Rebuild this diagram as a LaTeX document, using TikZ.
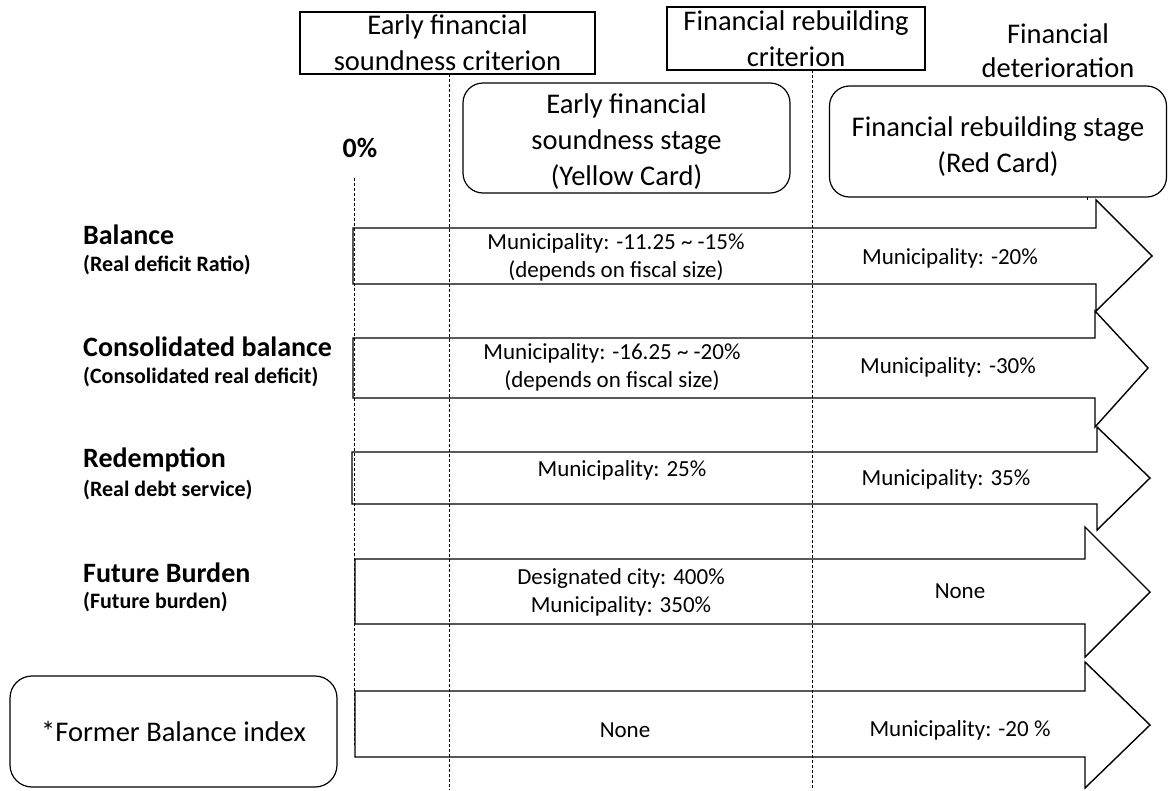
\documentclass[tikz,border=0pt]{standalone}
\usepackage{fontspec}
\setmainfont{Carlito}
\begin{document}
\begin{tikzpicture}[x=1pt,y=-1pt,
  crit/.style={draw, line width=1.2pt, inner sep=0pt, font=\fontsize{28.5}{36}\selectfont, align=center},
  stagebox/.style={draw, rounded corners=20pt, line width=1.2pt, inner sep=0pt, font=\fontsize{28.5}{36}\selectfont, align=center},
  arrowshape/.style={draw, fill=white, line width=1.4pt, line join=miter},
  guide/.style={dash pattern=on 3pt off 2pt, line width=0.8pt},
  big/.style={font=\fontsize{28.5}{34}\selectfont, align=center},
  lbl/.style={font=\fontsize{28}{34}\selectfont\bfseries, anchor=west, inner sep=0pt},
  sublbl/.style={font=\fontsize{22}{26}\selectfont\bfseries, anchor=west, inner sep=0pt},
  val/.style={font=\fontsize{23}{28}\selectfont, align=center, inner sep=0pt}
]
\useasboundingbox (0,0) rectangle (1169,790);

% arrows
\draw[arrowshape] (353,228) -- (1096,228) -- (1096,200) -- (1152,256) -- (1096,311) -- (1096,284) -- (353,284) -- cycle;
\draw[arrowshape] (353,338) -- (1095,338) -- (1095,311) -- (1148,368) -- (1095,427) -- (1095,398) -- (353,398) -- cycle;
\draw[arrowshape] (352,452) -- (1097,452) -- (1097,427) -- (1150,478) -- (1097,530) -- (1097,504) -- (352,504) -- cycle;
\draw[arrowshape] (355,559) -- (1085,559) -- (1085,527) -- (1150,592) -- (1085,657) -- (1085,624) -- (355,624) -- cycle;
\draw[arrowshape] (355,691) -- (1085,691) -- (1085,662) -- (1150,725) -- (1085,788) -- (1085,757) -- (355,757) -- cycle;

% top boxes
\node[crit, minimum width=295pt, minimum height=62pt] (c1) at (447.5,43) {Early financial\\soundness criterion};
\node[crit, minimum width=258pt, minimum height=63pt] (c2) at (796,38.5) {Financial rebuilding\\criterion};
\node[big] (det) at (1058,51) {Financial\\deterioration};
\node[stagebox, minimum width=327pt, minimum height=110pt] (yc) at (626.5,138) {};
\node[font=\fontsize{28.5}{36}\selectfont, align=center] (yct) at (626.5,142) {Early financial\\soundness stage\\(Yellow Card)};
\node[stagebox, minimum width=337pt, minimum height=111pt] (rc) at (998,141.5) {};
\node[font=\fontsize{28.5}{36}\selectfont, align=center] (rct) at (998,147) {Financial rebuilding stage\\(Red Card)};
\node[font=\fontsize{28}{34}\selectfont\bfseries] (zero) at (360,148) {0\%};

% guides
\coordinate (g0a) at (354,178); \coordinate (g0b) at (354,745);
\coordinate (g1a) at (449,74);  \coordinate (g1b) at (449,790);
\coordinate (g2a) at (812,70);  \coordinate (g2b) at (812,790);
\coordinate (g3a) at (1087,197); \coordinate (g3b) at (1087,201);
\draw[guide] (g0a) -- (g0b);
\draw[guide] (g1a) -- (g1b);
\draw[guide] (g2a) -- (g2b);
\draw[guide] (g3a) -- (g3b);

% row labels
\node[lbl] (l1) at (83,235) {Balance};
\node[sublbl] (s1) at (83,265) {(Real deficit Ratio)};
\node[lbl] (l2) at (83,347) {Consolidated balance};
\node[sublbl] (s2) at (83,377) {(Consolidated real deficit)};
\node[lbl] (l3) at (83,460) {Redemption};
\node[sublbl] (s3) at (83,490) {(Real debt service)};
\node[lbl] (l4) at (83,573) {Future Burden};
\node[sublbl] (s4) at (83,602) {(Future burden)};

% values
\node[val] (v1a) at (616,257) {Municipality: -11.25 \textasciitilde\ -15\%\\(depends on fiscal size)};
\node[val] (v1b) at (950,258) {Municipality: -20\%};
\node[val] (v2a) at (612,367) {Municipality: -16.25 \textasciitilde\ -20\%\\(depends on fiscal size)};
\node[val] (v2b) at (948,367) {Municipality: -30\%};
\node[val] (v3a) at (622,470) {Municipality: 25\%};
\node[val] (v3b) at (946,479) {Municipality: 35\%};
\node[val] (v4a) at (621,592) {Designated city: 400\%\\Municipality: 350\%};
\node[val] (v4b) at (960,591) {None};
\node[val] (v5a) at (625,730) {None};
\node[val] (v5b) at (960,730) {Municipality: -20 \%};

% former
\node[stagebox, rounded corners=22pt, minimum width=327pt, minimum height=111pt] (fb) at (173.5,731.5) {*Former Balance index};
\end{tikzpicture}
\end{document}
